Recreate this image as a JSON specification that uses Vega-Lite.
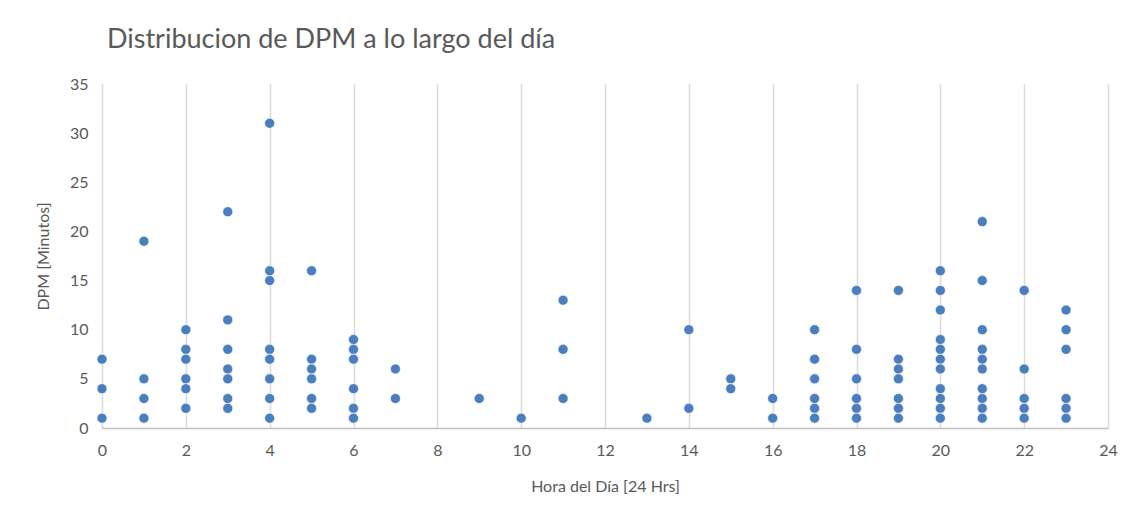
{
  "$schema": "https://vega.github.io/schema/vega-lite/v6.json",
  "autosize": "none",
  "width": 1006,
  "height": 344,
  "padding": {"left": 102, "top": 84, "right": 35, "bottom": 86},
  "background": "white",
  "title": {
    "text": "Distribucion de DPM a lo largo del día",
    "anchor": "start",
    "frame": "group",
    "dx": 5,
    "offset": 22,
    "fontSize": 27,
    "font": "Lato",
    "fontWeight": "normal",
    "color": "#595959"
  },
  "data": {
    "values": [
      {"hora": 0, "dpm": 7}, {"hora": 0, "dpm": 4}, {"hora": 0, "dpm": 1},
      {"hora": 1, "dpm": 19}, {"hora": 1, "dpm": 5}, {"hora": 1, "dpm": 3}, {"hora": 1, "dpm": 1},
      {"hora": 2, "dpm": 10}, {"hora": 2, "dpm": 8}, {"hora": 2, "dpm": 7}, {"hora": 2, "dpm": 5}, {"hora": 2, "dpm": 4}, {"hora": 2, "dpm": 2},
      {"hora": 3, "dpm": 22}, {"hora": 3, "dpm": 11}, {"hora": 3, "dpm": 8}, {"hora": 3, "dpm": 6}, {"hora": 3, "dpm": 5}, {"hora": 3, "dpm": 3}, {"hora": 3, "dpm": 2},
      {"hora": 4, "dpm": 31}, {"hora": 4, "dpm": 16}, {"hora": 4, "dpm": 15}, {"hora": 4, "dpm": 8}, {"hora": 4, "dpm": 7}, {"hora": 4, "dpm": 5}, {"hora": 4, "dpm": 3}, {"hora": 4, "dpm": 1},
      {"hora": 5, "dpm": 16}, {"hora": 5, "dpm": 7}, {"hora": 5, "dpm": 6}, {"hora": 5, "dpm": 5}, {"hora": 5, "dpm": 3}, {"hora": 5, "dpm": 2},
      {"hora": 6, "dpm": 9}, {"hora": 6, "dpm": 8}, {"hora": 6, "dpm": 7}, {"hora": 6, "dpm": 4}, {"hora": 6, "dpm": 2}, {"hora": 6, "dpm": 1},
      {"hora": 7, "dpm": 6}, {"hora": 7, "dpm": 3},
      {"hora": 9, "dpm": 3},
      {"hora": 10, "dpm": 1},
      {"hora": 11, "dpm": 13}, {"hora": 11, "dpm": 8}, {"hora": 11, "dpm": 3},
      {"hora": 13, "dpm": 1},
      {"hora": 14, "dpm": 10}, {"hora": 14, "dpm": 2},
      {"hora": 15, "dpm": 5}, {"hora": 15, "dpm": 4},
      {"hora": 16, "dpm": 3}, {"hora": 16, "dpm": 1},
      {"hora": 17, "dpm": 10}, {"hora": 17, "dpm": 7}, {"hora": 17, "dpm": 5}, {"hora": 17, "dpm": 3}, {"hora": 17, "dpm": 2}, {"hora": 17, "dpm": 1},
      {"hora": 18, "dpm": 14}, {"hora": 18, "dpm": 8}, {"hora": 18, "dpm": 5}, {"hora": 18, "dpm": 3}, {"hora": 18, "dpm": 2}, {"hora": 18, "dpm": 1},
      {"hora": 19, "dpm": 14}, {"hora": 19, "dpm": 7}, {"hora": 19, "dpm": 6}, {"hora": 19, "dpm": 5}, {"hora": 19, "dpm": 3}, {"hora": 19, "dpm": 2}, {"hora": 19, "dpm": 1},
      {"hora": 20, "dpm": 16}, {"hora": 20, "dpm": 14}, {"hora": 20, "dpm": 12}, {"hora": 20, "dpm": 9}, {"hora": 20, "dpm": 8}, {"hora": 20, "dpm": 7}, {"hora": 20, "dpm": 6}, {"hora": 20, "dpm": 4}, {"hora": 20, "dpm": 3}, {"hora": 20, "dpm": 2}, {"hora": 20, "dpm": 1},
      {"hora": 21, "dpm": 21}, {"hora": 21, "dpm": 15}, {"hora": 21, "dpm": 10}, {"hora": 21, "dpm": 8}, {"hora": 21, "dpm": 7}, {"hora": 21, "dpm": 6}, {"hora": 21, "dpm": 4}, {"hora": 21, "dpm": 3}, {"hora": 21, "dpm": 2}, {"hora": 21, "dpm": 1},
      {"hora": 22, "dpm": 14}, {"hora": 22, "dpm": 6}, {"hora": 22, "dpm": 3}, {"hora": 22, "dpm": 2}, {"hora": 22, "dpm": 1},
      {"hora": 23, "dpm": 12}, {"hora": 23, "dpm": 10}, {"hora": 23, "dpm": 8}, {"hora": 23, "dpm": 3}, {"hora": 23, "dpm": 2}, {"hora": 23, "dpm": 1}
    ]
  },
  "mark": {"type": "point", "filled": true, "shape": "circle", "size": 100, "color": "#4a7ebf", "opacity": 1, "stroke": "white", "strokeWidth": 0.6},
  "encoding": {
    "x": {
      "field": "hora",
      "type": "quantitative",
      "scale": {"domain": [0, 24], "nice": false},
      "axis": {
        "title": "Hora del Día [24 Hrs]",
        "values": [0, 2, 4, 6, 8, 10, 12, 14, 16, 18, 20, 22, 24],
        "grid": true,
        "gridColor": "#d9d9d9",
        "gridWidth": 1.5,
        "domainColor": "#bfbfbf",
        "domainWidth": 1.5,
        "ticks": false,
        "labelFlush": false,
        "labelPadding": 14,
        "titlePadding": 20
      }
    },
    "y": {
      "field": "dpm",
      "type": "quantitative",
      "scale": {"domain": [0, 35], "nice": false},
      "axis": {
        "title": "DPM [Minutos]",
        "values": [0, 5, 10, 15, 20, 25, 30, 35],
        "grid": false,
        "domain": false,
        "ticks": false,
        "labelPadding": 14,
        "titlePadding": 18
      }
    }
  },
  "config": {
    "view": {"stroke": null},
    "axis": {
      "labelFont": "Lato",
      "labelFontSize": 16,
      "labelColor": "#595959",
      "titleFont": "Lato",
      "titleFontSize": 16,
      "titleFontWeight": "normal",
      "titleColor": "#595959"
    }
  }
}
